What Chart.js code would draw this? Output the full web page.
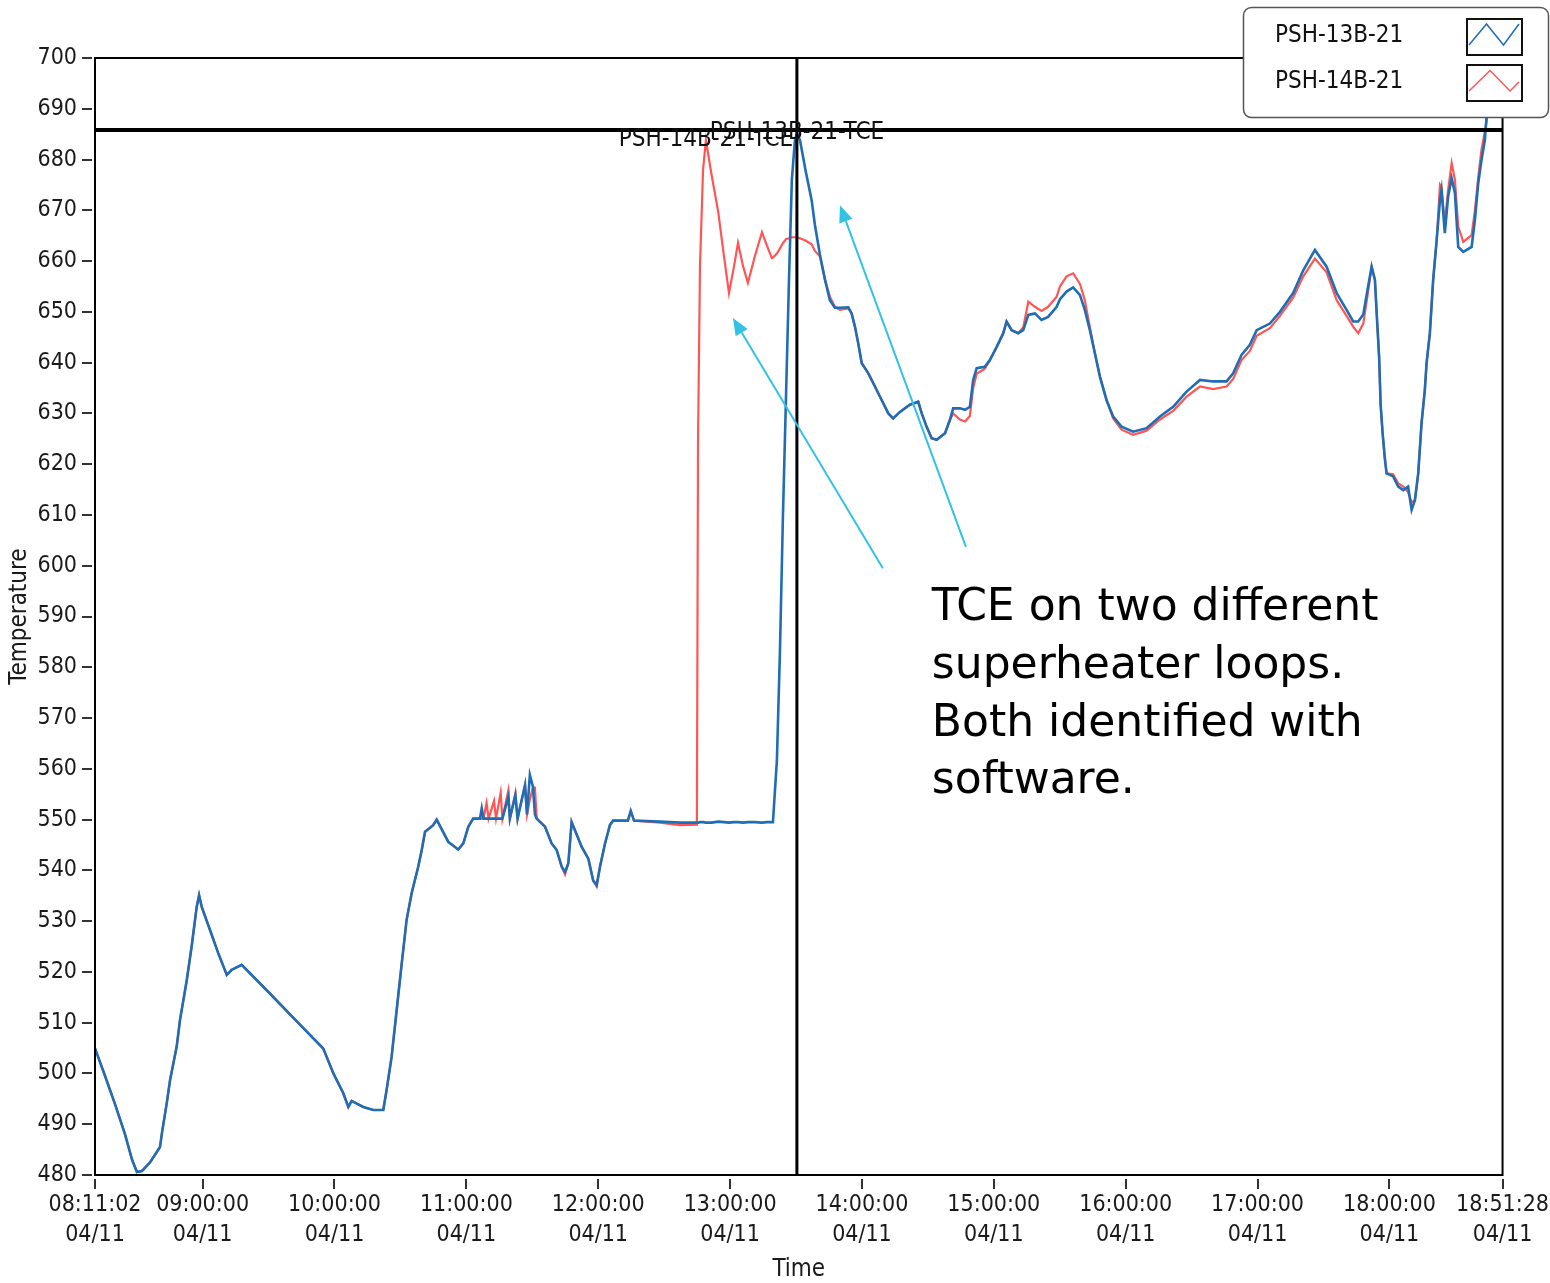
<!DOCTYPE html>
<html><head><meta charset="utf-8">
<script src="https://cdn.jsdelivr.net/npm/chart.js@4.4.1/dist/chart.umd.min.js"></script>
<style>html,body{margin:0;padding:0;background:#fff;}canvas{display:block;}</style>
</head><body>
<canvas id="c" width="1550" height="1283"></canvas>
<script>
// minutes after 08:00:00 on 04/11
const timeMinutes = [
11.0,15.6,20.1,24.7,27.9,30.1,32.4,36.1,38.8,40.6,
41.5,43.7,45.2,48.2,49.7,52.8,55.0,57.3,58.4,59.6,
63.4,67.1,71.0,73.2,77.8,90.7,104.3,114.9,119.5,124.0,
126.3,127.8,133.1,137.7,142.2,143.7,146.0,148.3,150.6,152.8,
155.1,158.1,159.7,161.2,164.9,166.5,171.8,176.3,178.6,180.9,
183.1,186.2,187.0,187.8,189.2,190.1,192.6,193.5,195.6,196.4,
199.1,199.8,202.3,203.3,206.7,207.6,208.9,210.3,211.2,212.0,
215.8,218.8,221.1,223.4,224.9,226.4,227.9,229.4,232.5,235.5,
237.7,239.3,240.8,243.1,245.3,246.8,253.5,254.8,256.3,268.1,
277.2,284.9,285.4,286.3,287.7,289.0,291.6,294.6,297.2,299.5,
301.8,303.6,305.9,308.1,311.3,314.5,316.8,319.0,319.5,321.3,
322.7,324.0,325.4,326.8,328.1,329.5,330.4,331.8,334.5,337.1,
338.6,340.9,343.2,345.4,347.7,350.0,353.8,355.3,356.8,358.3,
359.9,362.9,365.9,369.0,372.0,374.2,377.3,381.8,385.6,387.2,
389.4,391.7,394.0,397.8,400.0,401.5,404.6,406.9,409.1,410.6,
412.2,415.9,418.2,421.3,424.3,425.8,428.1,431.1,433.4,435.7,
438.7,441.7,444.7,448.6,450.1,453.1,456.1,459.2,461.4,463.7,
466.0,468.3,471.3,474.3,478.1,483.4,489.5,495.6,501.6,507.7,
513.8,519.8,525.9,528.9,532.7,536.5,539.6,545.6,550.2,556.2,
560.8,566.1,571.4,576.0,580.5,583.5,585.8,588.1,590.3,591.9,
593.4,594.2,595.3,596.0,596.9,597.9,598.7,601.7,604.0,606.3,
608.5,610.1,611.6,613.1,614.6,616.1,616.9,618.4,619.9,621.5,
623.0,623.7,625.2,626.7,628.3,629.8,631.3,633.6,637.4,638.9,
640.4,641.9,643.4,644.2,645.7
];
const psh13b = [
505,499.5,494,488,483,480.6,480.8,482.5,484.3,485.5,
488.3,494.2,498.7,505.3,510.5,518.4,525,532.8,535.1,532.8,
528.2,523.7,519.4,520.4,521.4,515.7,509.6,504.9,500,496.1,
493.4,494.6,493.4,492.8,492.8,496.7,503.3,512.5,521.7,530.2,
535.5,540.7,544,547.6,548.9,550,545.6,544.1,545.3,548.6,
550.2,550.2,552.2,550.2,550.2,550.2,550.2,550.2,550.2,550.2,
554.5,550.2,554.8,550.2,556.8,551,558.8,556.5,551,550.2,
548.6,545.3,544,540.7,539.7,541.4,549.5,547.9,544.6,542.3,
538,537.1,540.7,545.3,548.9,549.8,549.8,551.7,549.8,549.6,
549.4,549.4,549.4,549.5,549.5,549.4,549.4,549.6,549.5,549.4,
549.5,549.5,549.4,549.5,549.5,549.4,549.5,549.5,549.5,561.7,
583.4,609,632.6,656.3,676,683.8,685.2,683.8,677.5,672,
667.1,661.2,656.3,652.3,650.8,650.8,650.9,649.7,647.1,643.8,
639.9,637.9,635.3,632.6,630,629,630.3,631.7,632.3,630,
627.4,625.1,624.8,626.1,628.7,631,631,630.7,631.3,636.6,
638.9,639.2,640.5,643.1,645.8,648.1,646.4,645.8,646.4,649.4,
649.7,648.4,649,651,652.5,654,654.8,653.3,650.4,646.4,
641.8,637.2,632.6,629.4,627.4,626.4,627.1,629.4,631.3,634.3,
636.6,636.3,636.3,637.9,641.5,643.5,646.4,647.7,650,653.7,
658.2,662.2,658.9,653.7,650.4,648.1,648.1,649.5,655,658.9,
656.3,649.7,641.2,631.7,626.1,621.2,618.2,617.6,615.6,614.9,
615.6,611,612.9,618.2,628,634.6,639.9,645.8,656.3,664.2,
672,674,665.5,672.7,676.3,673.4,662.8,661.8,662.8,668.1,
675.3,679.9,683.8,688.4,699
];
const psh14b = [
505,499.5,494,488,483,480.6,480.8,482.5,484.3,485.5,
488.3,494.2,498.7,505.3,510.5,518.4,525,532.8,535.1,532.8,
528.2,523.7,519.4,520.4,521.4,515.7,509.6,504.9,500,496.1,
493.4,494.6,493.4,492.8,492.8,496.7,503.3,512.5,521.7,530.2,
535.5,540.7,544,547.6,548.9,550,545.6,544.1,545.3,548.6,
550.2,550.2,550.2,550.2,553.3,550.2,553.7,550.2,555.3,550.2,
555.7,550.2,555.2,550.2,556.8,551,554,556.3,556.3,550.2,
548.6,545.3,544,540.7,539.2,541.4,549.5,547.9,544.6,542.3,
538,536.8,540.7,545.3,548.9,549.8,549.8,551.7,549.8,549.4,
548.9,549,624,659,678,683.8,676.9,669.7,661,653.7,
659,663.6,659,655.7,661,665.7,663,660.6,660.7,661.5,
662.5,663.5,664.3,664.5,664.7,664.7,664.7,664.5,664,663.3,
662,660.9,656.3,653,651,650.4,650.7,649.7,647.1,643.8,
639.9,637.9,635.3,632.6,630,629,630.3,631.7,632.3,630,
627.4,625.1,624.8,626.1,628.7,630,628.8,628.4,629.5,635,
637.8,638.8,640.5,643.1,645.8,648.1,646.4,645.8,647,652,
651,650.2,651,653,655,657,657.6,655.5,652.3,647,
641.8,637.2,632.6,629,626.8,625.8,626.6,628.8,630.5,633.3,
635.3,634.8,635.3,636.8,640.5,642.3,645.3,646.8,649.2,652.8,
657,660.5,657.8,652.3,649.2,647.1,645.8,647.7,654,658.9,
656.3,649.7,641.2,631.7,626.1,621.2,618.2,618,616.2,615.6,
614.5,612.5,612.9,618.2,628,634.6,639.9,645.8,656.3,664.2,
675,674.5,667.5,674,679.3,676,666.8,663.8,665.1,670,
676.5,682,685.5,687.5,693
];
const seriesNames = ['PSH-13B-21', 'PSH-14B-21'];
const xTickTimes = ['08:11:02','09:00:00','10:00:00','11:00:00','12:00:00','13:00:00','14:00:00','15:00:00','16:00:00','17:00:00','18:00:00','18:51:28'];
const xTickDate = '04/11';
const yMin = 480, yMax = 700, yStep = 10;
// cursor (crosshair) position and labels
const cursorTime = 330.4;   // 13:30:24
const cursorTemp = 685.8;
const cursorLabels = [
  {text: 'PSH-14B-21-TCE', t: 289.0, v: 683.8},
  {text: 'PSH-13B-21-TCE', t: 330.4, v: 685.3}
];
// annotation arrows: [fromTime, fromTemp, toTime, toTemp]
const arrows = [[369.5, 599.5, 301.3, 648.8], [407.3, 603.7, 350.0, 671.0]];
const noteLines = ['TCE on two different', 'superheater loops.', 'Both identified with', 'software.'];
const noteAnchor = {t: 391.8, v: 591.5};

function toMin(s){ const p = s.split(':').map(Number); return (p[0]-8)*60 + p[1] + p[2]/60; }
const xTickValues = xTickTimes.map(toMin);

const BLUE = '#1f6db4', RED = '#ff5555', CYAN = '#33c2e4';
const FAM = "'Liberation Sans Narrow','DejaVu Sans Condensed','Arial Narrow',sans-serif";
const tickFont = {family: FAM, size: 23, lineHeight: 1.3};

const overlay = {
  id: 'overlay',
  beforeDraw(chart){ const c = chart.ctx; c.save(); c.fillStyle = '#fff'; c.fillRect(0,0,chart.width,chart.height); c.restore(); },
  afterDraw(chart){
    const {ctx, chartArea: a, scales: {x, y}} = chart;
    ctx.save();
    const line = (x1,y1,x2,y2) => { ctx.beginPath(); ctx.moveTo(x1,y1); ctx.lineTo(x2,y2); ctx.stroke(); };
    // frame
    ctx.strokeStyle = '#000'; ctx.lineWidth = 2;
    ctx.strokeRect(a.left, a.top, a.right - a.left, a.bottom - a.top);
    // tick marks
    ctx.strokeStyle = '#333'; ctx.lineWidth = 2;
    x.ticks.forEach(t => { const px = Math.round(x.getPixelForValue(t.value)); line(px, a.bottom + 4, px, a.bottom + 14); });
    y.ticks.forEach(t => { const py = Math.round(y.getPixelForValue(t.value)); line(a.left - 13, py, a.left - 3, py); });
    // cursor lines
    ctx.strokeStyle = '#000';
    ctx.lineWidth = 4;
    const cy = y.getPixelForValue(cursorTemp);
    line(a.left, cy, a.right, cy);
    ctx.lineWidth = 3;
    const cx = x.getPixelForValue(cursorTime);
    line(cx, a.top, cx, a.bottom);
    // cursor labels
    ctx.fillStyle = '#111'; ctx.font = '24px ' + FAM; ctx.textAlign = 'center'; ctx.textBaseline = 'middle';
    cursorLabels.forEach(l => ctx.fillText(l.text, x.getPixelForValue(l.t), y.getPixelForValue(l.v)));
    // arrows
    ctx.strokeStyle = CYAN; ctx.fillStyle = CYAN; ctx.lineWidth = 2;
    arrows.forEach(([t1,v1,t2,v2]) => {
      const x1 = x.getPixelForValue(t1), y1 = y.getPixelForValue(v1), x2 = x.getPixelForValue(t2), y2 = y.getPixelForValue(v2);
      const ang = Math.atan2(y2 - y1, x2 - x1), L = 17, W = 7;
      const bx = x2 - L*Math.cos(ang), by = y2 - L*Math.sin(ang);
      line(x1, y1, bx, by);
      ctx.beginPath(); ctx.moveTo(x2, y2);
      ctx.lineTo(bx + W*Math.sin(ang), by - W*Math.cos(ang));
      ctx.lineTo(bx - W*Math.sin(ang), by + W*Math.cos(ang));
      ctx.closePath(); ctx.fill();
    });
    // note text
    ctx.fillStyle = '#000'; ctx.font = "44px 'DejaVu Sans', Verdana, sans-serif"; ctx.textAlign = 'left'; ctx.textBaseline = 'middle';
    const nx = x.getPixelForValue(noteAnchor.t), ny = y.getPixelForValue(noteAnchor.v);
    noteLines.forEach((s, i) => ctx.fillText(s, nx, ny + i * 57.7));
    // legend
    ctx.beginPath(); ctx.roundRect(1243.5, 7.5, 305, 110, 8);
    ctx.fillStyle = '#fff'; ctx.fill(); ctx.strokeStyle = '#555'; ctx.lineWidth = 1.5; ctx.stroke();
    ctx.fillStyle = '#111'; ctx.font = '24px ' + FAM; ctx.textAlign = 'left'; ctx.textBaseline = 'middle';
    ctx.fillText(seriesNames[0], 1275, 36);
    ctx.fillText(seriesNames[1], 1275, 82);
    ctx.strokeStyle = '#111'; ctx.lineWidth = 2;
    ctx.strokeRect(1467, 19, 55, 36);
    ctx.strokeRect(1467, 65, 55, 36);
    ctx.lineWidth = 1.5;
    ctx.strokeStyle = BLUE; ctx.beginPath(); ctx.moveTo(1469, 45); ctx.lineTo(1486.5, 24); ctx.lineTo(1503.5, 45); ctx.lineTo(1519, 24); ctx.stroke();
    ctx.strokeStyle = RED; ctx.beginPath(); ctx.moveTo(1469, 91); ctx.lineTo(1490, 70.5); ctx.lineTo(1510, 91); ctx.lineTo(1519, 82); ctx.stroke();
    ctx.restore();
  }
};

new Chart(document.getElementById('c'), {
  type: 'line',
  data: {
    datasets: [
      {label: seriesNames[0], data: timeMinutes.map((t,i) => ({x: t, y: psh13b[i]})), borderColor: BLUE, borderWidth: 2.6, pointRadius: 0, tension: 0, fill: false},
      {label: seriesNames[1], data: timeMinutes.map((t,i) => ({x: t, y: psh14b[i]})), borderColor: RED, borderWidth: 2.2, pointRadius: 0, tension: 0, fill: false}
    ]
  },
  options: {
    responsive: false, animation: false, devicePixelRatio: 1,
    layout: {padding: {top: 58, right: 47, left: 0, bottom: 0}},
    plugins: {legend: {display: false}, tooltip: {enabled: false}},
    scales: {
      x: {
        type: 'linear', min: xTickValues[0], max: xTickValues[xTickValues.length - 1],
        afterBuildTicks: s => { s.ticks = xTickValues.map(v => ({value: v})); },
        afterFit: s => { s.height = 108; },
        grid: {drawOnChartArea: false, drawTicks: true, tickLength: 14, color: 'rgba(0,0,0,0)'},
        border: {display: true, color: '#000', width: 2},
        ticks: {autoSkip: false, maxRotation: 0, minRotation: 0, padding: 1, color: '#1a1a1a', font: tickFont,
                callback: (v, i) => [xTickTimes[i], xTickDate]},
        title: {display: true, text: 'Time', color: '#1a1a1a', font: {family: FAM, size: 24, lineHeight: 1}, padding: {top: 0, bottom: 1}}
      },
      y: {
        min: yMin, max: yMax,
        afterFit: s => { s.width = 95; },
        grid: {drawOnChartArea: false, drawTicks: true, tickLength: 12, color: 'rgba(0,0,0,0)'},
        border: {display: true, color: '#000', width: 2},
        ticks: {stepSize: yStep, padding: 6, color: '#1a1a1a', font: tickFont},
        title: {display: true, text: 'Temperature', color: '#1a1a1a', font: {family: FAM, size: 24, lineHeight: 1}, padding: {top: 8, bottom: 0}}
      }
    }
  },
  plugins: [overlay]
});
</script>
</body></html>
